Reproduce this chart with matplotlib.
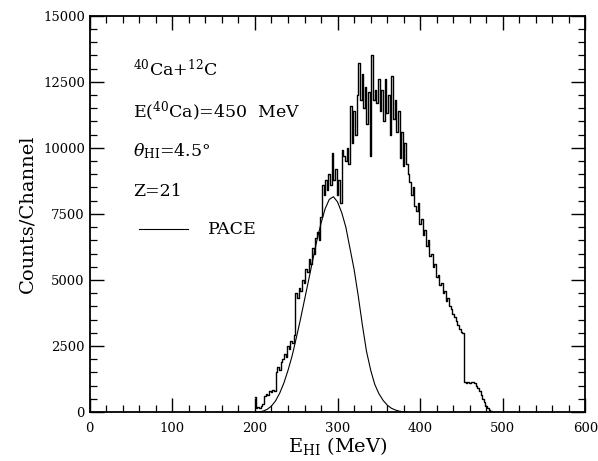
import matplotlib
matplotlib.use("Agg")
import matplotlib.pyplot as plt
import numpy as np

# measured spectrum, 2 MeV channels starting at 200 MeV
e_start = 200
e_step = 2
counts = [
    580, 150, 200, 150, 250, 300, 600, 700, 650, 800,
    750, 850, 800, 1500, 1700, 1600, 1900, 2000, 2200, 2100,
    2500, 2400, 2700, 2600, 2900, 4500, 4300, 4700, 4600, 5000,
    4900, 5400, 5300, 5800, 5600, 6200, 6000, 6600, 6800, 6500,
    7400, 8600, 8200, 8800, 8400, 9000, 8600, 9800, 8800, 9200,
    8200, 8800, 7900, 9900, 9700, 9500, 10000, 9400, 11600, 10200,
    11400, 10500, 12000, 13200, 11800, 12800, 11500, 12300, 10900, 12100,
    9700, 13500, 11800, 12200, 11700, 12600, 11400, 12200, 11000, 12600,
    11300, 12000, 10500, 12700, 11100, 11800, 10600, 11400, 9600, 10600,
    9300, 10200, 9400, 9000, 8700, 8200, 8500, 7800, 7600, 7900,
    7100, 7300, 6700, 6900, 6300, 6500, 5900, 6000, 5500, 5600,
    5100, 5200, 4800, 4900, 4500, 4600, 4200, 4300, 4000, 3900,
    3700, 3600, 3450, 3300, 3150, 3050, 3000, 1150, 1100, 1150,
    1100, 1150, 1150, 1100, 1000, 900, 800, 650, 500, 380,
    250, 150, 80, 30, 0, 0,
]
energy = e_start + e_step * np.arange(len(counts))

# PACE calculation
pace_e = [200, 205, 210, 215, 220, 225, 230, 235, 240, 245,
          250, 255, 260, 265, 270, 275, 280, 285, 290, 295,
          300, 305, 310, 315, 320, 325, 330, 335, 340, 345,
          350, 355, 360, 365, 370, 375, 380, 385]
pace_counts = [0, 10, 40, 110, 230, 430, 720, 1100, 1580, 2130,
               2800, 3500, 4250, 5000, 5760, 6500, 7150, 7700, 8050, 8150,
               7950, 7550, 7000, 6200, 5400, 4400, 3300, 2300, 1600, 1050,
               700, 450, 270, 150, 80, 35, 10, 0]

plt.rcParams['font.family'] = ['DejaVu Serif']
plt.rcParams['mathtext.fontset'] = 'dejavuserif'

fig = plt.figure(figsize=(5.98, 4.61), dpi=100)
ax = fig.add_axes([0.150, 0.106, 0.829, 0.860])

ax.step(energy, counts, where='mid', color='black', linewidth=1.0)
ax.plot(pace_e, pace_counts, color='black', linewidth=0.8)

ax.set_xlim(0, 600)
ax.set_ylim(0, 15000)
ax.set_xticks(np.arange(0, 601, 100))
ax.set_xticks(np.arange(0, 601, 20), minor=True)
ax.set_yticks(np.arange(0, 15001, 2500))
ax.set_yticks(np.arange(0, 15001, 500), minor=True)
ax.tick_params(which='both', direction='in', top=True, right=True, labelsize=9.5)
ax.tick_params(which='major', length=10, width=1.0)
ax.tick_params(which='minor', length=5, width=0.9)
ax.tick_params(axis='x', pad=7)
for s in ax.spines.values():
    s.set_linewidth(1.3)

ax.set_xlabel(r'E$_{\rm HI}$ (MeV)', fontsize=14, labelpad=0)
ax.set_ylabel('Counts/Channel', fontsize=14, labelpad=5)

tx = 53
fs = 12.5
ax.text(tx, 12970, r'$^{40}$Ca+$^{12}$C', fontsize=fs, va='center')
ax.text(tx, 11390, r'E($^{40}$Ca)=450  MeV', fontsize=fs, va='center')
ax.text(tx, 9870, r'$\theta_{\rm HI}$=4.5°', fontsize=fs, va='center')
ax.text(tx, 8360, 'Z=21', fontsize=fs, va='center')
ax.plot([60, 119], [6930, 6930], color='black', linewidth=0.8)
ax.text(143, 6900, 'PACE', fontsize=fs, va='center')

fig.savefig('out.png', dpi=100)
